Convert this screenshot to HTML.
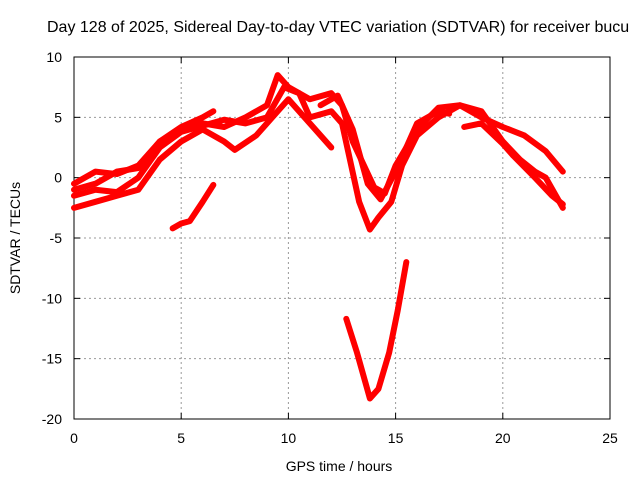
<!DOCTYPE html>
<html><head><meta charset="utf-8">
<style>
body{margin:0;background:#fff;}
svg{display:block;font-family:"Liberation Sans",sans-serif;}
</style></head>
<body>
<svg id="chart" width="640" height="480">
<text x="47" y="32" font-size="16" text-anchor="start">Day 128 of 2025, Sidereal Day-to-day VTEC variation (SDTVAR) for receiver bucu</text>
<g id="grid"></g>
<g id="axes"></g>
<g id="series"></g>
<text x="339" y="471" font-size="14" text-anchor="middle">GPS time / hours</text>
<text transform="translate(20,238) rotate(-90)" font-size="14" text-anchor="middle">SDTVAR / TECUs</text>
</svg>
<script>
const xTicks=[0,5,10,15,20,25];
const yTicks=[10,5,0,-5,-10,-15,-20];
const trackA=[[0,-1],[1,-0.5],[2,0.5],[3,0.8],[4,3],[5,4],[6,4.5],[7,4.2],[8,5],[9,6],[9.5,8.5],[10,7.5],[11,6.5],[12,7],[12.5,6],[13,3],[14,-0.8],[14.5,-1.3],[15,1],[16,4],[17,5.8],[18,6],[19,5],[20,4.2],[21,3.5],[22,2.2],[22.8,0.5]];
const trackB=[[0,-2.5],[1,-2],[2,-1.5],[3,-1],[4,1.5],[5,3],[6,4],[7,3],[7.5,2.3],[8.5,3.5],[9.5,5.5],[10,6.5],[11,4.5],[12,2.5]];
const trackC=[[0,-1.5],[1,-1],[2,-1.2],[3,0],[4,2.5],[5,3.8],[6,4.3],[7,4.8],[8,4.5],[9,5],[9.8,7.5],[10.5,7],[11,5],[12,5.5],[12.5,4.5],[13.3,-2],[13.8,-4.3],[14.2,-3.3],[14.8,-2],[15.3,1],[16,3.5],[17,5],[18,6],[19,5.5],[20,3],[20.8,1.5],[21.5,0.5],[22,0],[22.8,-2.5]];
const trackD=[[0,-0.5],[1,0.5],[2,0.3],[3,1],[4,3],[5,4.2],[6,5],[6.5,5.5]];
const trackE=[[11.5,6],[12.3,6.8],[13,4],[13.7,-0.5],[14.3,-1.8],[15,0.5],[16,4.5],[17,5.5],[17.5,5.3]];
const trackF=[[18.2,4.2],[19,4.5],[20,2.8],[20.5,1.8],[21.5,0],[22.3,-1.5],[22.8,-2.2]];
const trackG=[[4.6,-4.2],[5,-3.8],[5.4,-3.6],[6,-2],[6.5,-0.6]];
const trackH=[[12.7,-11.7],[13.2,-14.5],[13.8,-18.3],[14.2,-17.5],[14.7,-14.5],[15.1,-11],[15.5,-7]];
const tracks=[trackA,trackB,trackC,trackD,trackE,trackF,trackG,trackH];
const X0=74,X1=610,Y0=419,Y1=57,xmin=0,xmax=25,ymin=-20,ymax=10;
const sx=t=>X0+(t-xmin)/(xmax-xmin)*(X1-X0);
const sy=v=>Y0-(v-ymin)/(ymax-ymin)*(Y0-Y1);
const NS="http://www.w3.org/2000/svg";
const grid=document.getElementById('grid'),axes=document.getElementById('axes'),series=document.getElementById('series');
function mk(tag,attrs,parent){const e=document.createElementNS(NS,tag);for(const k in attrs)e.setAttribute(k,attrs[k]);parent.appendChild(e);return e;}
xTicks.forEach(t=>{
  if(t>0&&t<25){const g=mk('line',{x1:sx(t),x2:sx(t),y1:Y1,y2:Y0,stroke:'#999','stroke-dasharray':'2,3'},grid);
  
  }
  const tx=mk('text',{x:sx(t),y:443,'font-size':14,'text-anchor':'middle'},axes);tx.textContent=t;
  
  
  mk('line',{x1:sx(t),x2:sx(t),y1:Y0,y2:Y0-6,stroke:'#000'},axes);
  mk('line',{x1:sx(t),x2:sx(t),y1:Y1,y2:Y1+6,stroke:'#000'},axes);
});
yTicks.forEach(v=>{
  if(v>-20&&v<10){const g=mk('line',{x1:X0,x2:X1,y1:sy(v),y2:sy(v),stroke:'#999','stroke-dasharray':'2,3'},grid);
  
  }
  const tx=mk('text',{x:62,y:sy(v)+5,'font-size':14,'text-anchor':'end'},axes);tx.textContent=v;
  
  
  mk('line',{x1:X0,x2:X0+6,y1:sy(v),y2:sy(v),stroke:'#000'},axes);
  mk('line',{x1:X1,x2:X1-6,y1:sy(v),y2:sy(v),stroke:'#000'},axes);
});
const fr=mk('rect',{x:X0,y:Y1,width:X1-X0,height:Y0-Y1,fill:'none',stroke:'#000'},axes);


tracks.forEach(tr=>{
  const p=mk('polyline',{points:tr.map(d=>sx(d[0])+','+sy(d[1])).join(' '),fill:'none',stroke:'#f00','stroke-width':6,'stroke-linejoin':'round','stroke-linecap':'round'},series);
  
  
});
</script>
</body></html>
